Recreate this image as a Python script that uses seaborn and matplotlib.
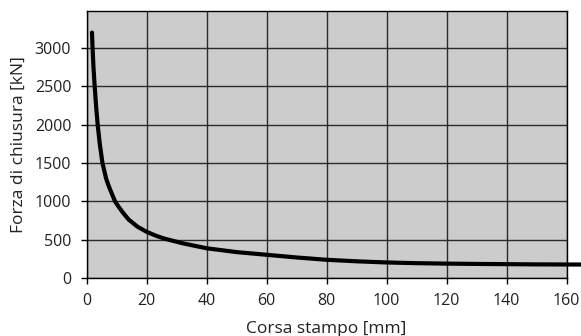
import matplotlib
matplotlib.use("Agg")
from matplotlib import pyplot as plt
import pandas as pd
import seaborn as sns

# valori
corsa = [1.8, 2.0, 2.3, 2.7, 3.2, 3.7, 4.4, 5.3, 6.5, 7.2, 8.0, 9.5, 10.7, 12,
         14, 17, 20, 23, 26, 32, 40, 50, 60, 70, 80, 90, 100, 110, 120, 130,
         140, 150, 165]
forza = [3200, 3000, 2750, 2500, 2230, 2000, 1750, 1500, 1300, 1220, 1140, 1000,
         930, 860, 765, 670, 605, 555, 515, 455, 390, 340, 305, 270, 240, 220,
         205, 196, 190, 186, 183, 180, 178]
x_ticks = [0, 20, 40, 60, 80, 100, 120, 140, 160]
y_ticks = [0, 500, 1000, 1500, 2000, 2500, 3000]

df = pd.DataFrame({"corsa": corsa, "forza": forza})

sns.set_style("ticks")
plt.rcParams['font.family'] = ['Open Sans', 'DejaVu Sans']

fig = plt.figure(figsize=(5.81, 3.36), dpi=100)
ax = fig.add_axes([0.149, 0.172, 0.8264, 0.795])
ax.set_facecolor("#cccccc")

sns.lineplot(data=df, x="corsa", y="forza", ax=ax, color="black",
             linewidth=3, clip_on=False, zorder=5)

ax.set_xlim(0, 160)
ax.set_ylim(0, 3480)
ax.set_xticks(x_ticks)
ax.set_yticks(y_ticks)
ax.grid(True, color="#2a2a2a", linewidth=1.0)
ax.set_axisbelow(True)
for s in ax.spines.values():
    s.set_color("black")
    s.set_linewidth(1.0)
ax.tick_params(direction="out", length=4, width=1, colors="black",
               labelcolor="#222222", labelsize=11.5)
ax.tick_params(axis="y", pad=7)
ax.tick_params(axis="x", pad=7)
ax.set_xlabel("Corsa stampo [mm]", fontsize=12.5, color="#222222", labelpad=8)
ax.set_ylabel("Forza di chiusura [kN]", fontsize=12.5, color="#222222", labelpad=6)

plt.savefig("out.png", dpi=100)
